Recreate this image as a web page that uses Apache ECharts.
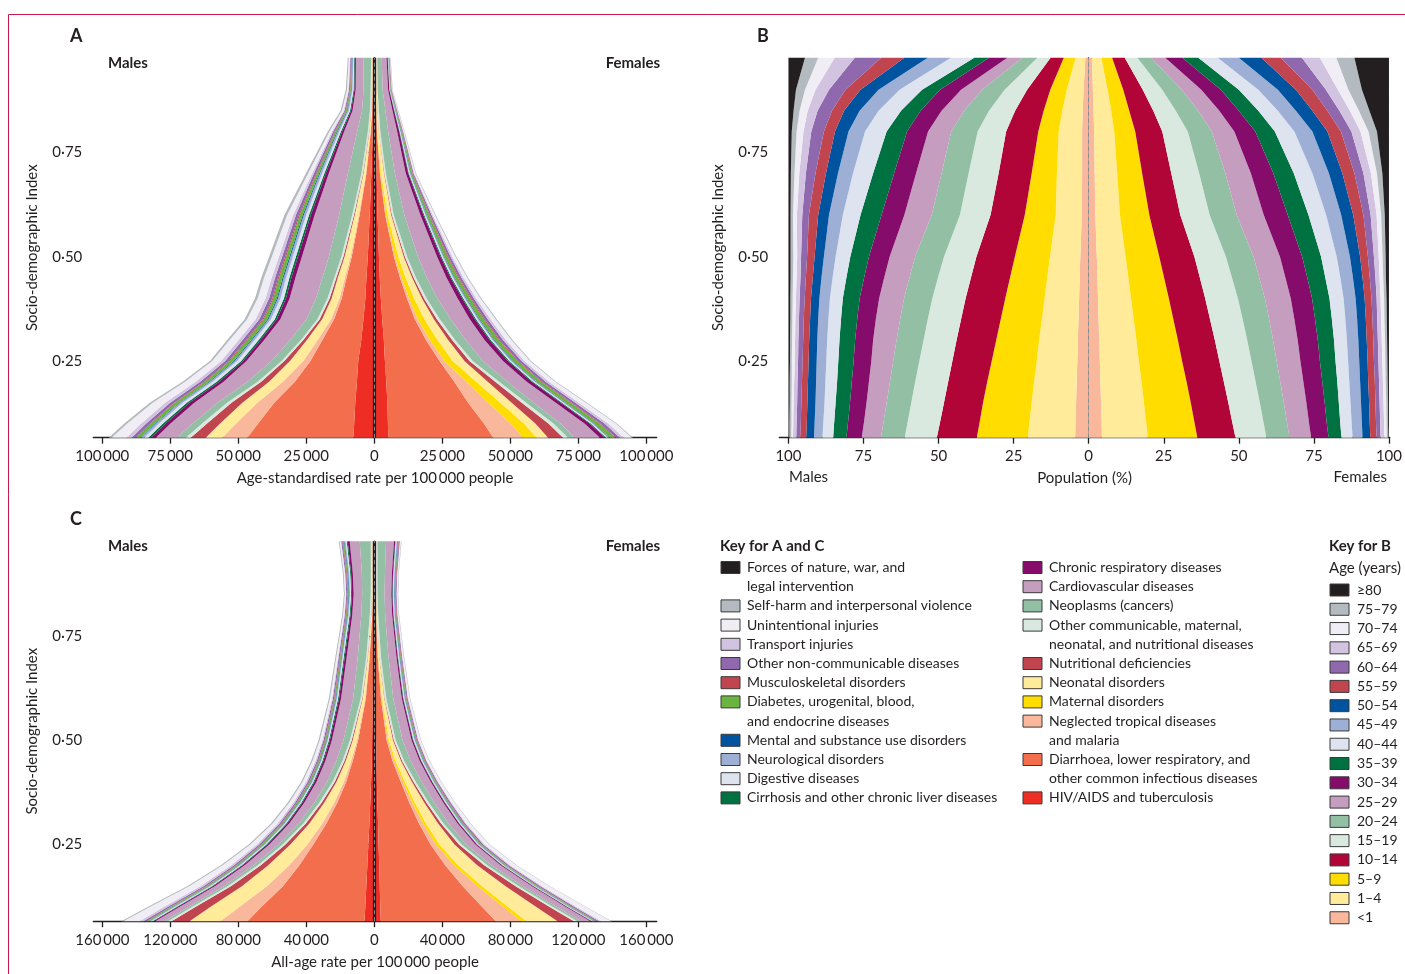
<!DOCTYPE html>
<html><head><meta charset="utf-8">
<script src="https://cdn.jsdelivr.net/npm/echarts@6/dist/echarts.min.js"></script>
<style>html,body{margin:0;padding:0;background:#fff}#c{width:1405px;height:974px}</style>
</head><body><div id="c"></div><script>
const FONT = 'Lato, "Open Sans", sans-serif';
const INK = '#231f20';
// Socio-demographic Index levels at which bands are read
const sdiLevels = [0.066,0.1,0.15,0.2,0.25,0.3,0.35,0.4,0.45,0.5,0.6,0.7,0.8,0.85,0.9,0.977];

// ---------- Panel A: age-standardised rate per 100 000 (thousands) ----------
// Males
const aM_hiv=[7.7,7.4,7.0,6.4,5.9,4.8,4.0,3.3,2.9,2.4,1.7,1.1,0.55,0.37,0.29,0.26];
const aM_diar=[39.0,35.3,29.8,22.8,17.6,14.3,10.8,8.7,7.3,5.9,3.7,1.8,0.74,0.44,0.37,0.33];
const aM_ntd=[9.2,8.1,6.2,4.4,2.6,1.7,1.1,0.8,0.6,0.44,0.29,0.18,0.11,0.07,0.07,0.04];
const aM_mat=[0,0,0,0,0,0,0,0,0,0,0,0,0,0,0,0];
const aM_neo=[6.1,5.9,5.5,5.1,4.9,4.0,3.3,2.9,2.6,2.2,1.5,0.9,0.44,0.29,0.22,0.18];
const aM_nutr=[5.5,4.8,4.0,2.9,2.1,1.3,0.9,0.74,0.55,0.44,0.29,0.18,0.11,0.07,0.07,0.07];
const aM_othc=[1.8,1.8,1.65,1.3,1.0,0.9,0.85,0.8,0.74,0.74,0.66,0.55,0.44,0.37,0.33,0.29];
const aM_neopl=[3.3,3.5,3.5,3.7,3.7,3.9,4.0,4.2,4.4,4.6,4.8,5.0,3.9,2.9,2.6,2.8];
const aM_cardio=[7.7,8.1,8.5,8.8,9.2,9.6,9.6,9.7,9.9,9.9,9.0,7.0,4.8,3.5,2.9,2.8];
const aM_cresp=[1.8,1.8,1.8,1.65,1.2,1.3,1.3,1.36,1.47,1.47,1.4,1.1,0.74,0.55,0.48,0.44];
const aM_cirr=[1.0,1.0,1.0,0.92,0.74,0.74,0.74,0.74,0.74,0.74,0.66,0.55,0.44,0.37,0.29,0.22];
const aM_dig=[1.47,1.47,1.47,1.47,1.47,1.47,1.4,1.29,1.21,1.1,1.03,0.81,0.59,0.44,0.37,0.29];
const aM_neuro=[1.21,1.18,1.1,1.03,0.92,0.92,0.92,0.92,0.92,0.92,0.92,0.81,0.66,0.48,0.4,0.37];
const aM_ment=[0.26,0.29,0.29,0.33,0.37,0.37,0.37,0.37,0.37,0.37,0.37,0.29,0.26,0.18,0.15,0.11];
const aM_diab=[1.47,1.47,1.47,1.47,1.47,1.47,1.4,1.32,1.29,1.21,1.1,0.81,0.55,0.37,0.29,0.22];
const aM_msk=[0.26,0.29,0.29,0.33,0.37,0.37,0.37,0.37,0.37,0.37,0.37,0.29,0.22,0.18,0.15,0.15];
const aM_oncd=[1.47,1.47,1.47,1.4,1.29,1.29,1.21,1.18,1.1,1.1,1.03,0.81,0.59,0.4,0.33,0.26];
const aM_transp=[1.84,1.84,1.84,1.65,1.47,1.47,1.4,1.32,1.25,1.18,1.03,0.66,0.44,0.29,0.22,0.15];
const aM_unint=[5.5,5.1,4.6,3.9,3.3,3.3,3.1,2.9,2.8,2.6,2.2,1.47,0.92,0.62,0.51,0.4];
const aM_self=[1.0,1.0,1.0,0.85,0.74,0.81,0.81,0.88,0.92,0.92,0.92,0.74,0.55,0.44,0.37,0.29];
const aM_forces=[0.03,0.03,0.03,0.03,0.03,0.03,0.03,0.03,0.03,0.03,0.03,0.03,0.03,0.03,0.03,0.03];
// Females
const aF_hiv=[5.1,5.0,4.8,4.4,3.9,3.5,2.9,2.4,2.0,1.7,1.2,0.85,0.48,0.37,0.26,0.22];
const aF_diar=[38.6,35.3,29.7,25.0,20.1,15.5,12.0,9.6,7.4,5.5,2.8,1.2,0.48,0.37,0.26,0.22];
const aF_ntd=[11.0,9.9,7.4,4.4,1.8,1.5,1.1,0.8,0.6,0.44,0.26,0.15,0.07,0.07,0.04,0.04];
const aF_mat=[4.9,4.8,4.4,3.7,3.05,2.75,2.4,1.84,1.47,1.18,0.66,0.29,0.11,0.07,0.04,0.04];
const aF_neo=[4.3,4.2,4.2,4.2,4.3,3.9,3.5,2.9,2.4,2.0,1.3,1.1,0.55,0.37,0.26,0.22];
const aF_nutr=[5.5,4.8,3.7,2.75,1.84,1.47,1.1,0.74,0.55,0.44,0.26,0.15,0.07,0.07,0.07,0.07];
const aF_othc=[1.84,1.84,1.65,1.47,1.2,1.1,1.1,0.96,0.88,0.81,0.66,0.51,0.44,0.37,0.29,0.26];
const aF_neopl=[2.5,2.6,2.75,3.1,3.7,3.9,4.0,4.0,4.0,4.0,3.9,3.3,2.9,2.4,1.84,1.65];
const aF_cardio=[9.2,8.8,8.1,7.0,7.4,6.9,7.0,7.4,7.2,7.0,5.9,4.0,3.3,2.6,2.0,1.76];
const aF_cresp=[1.84,1.84,1.84,1.84,1.84,1.84,1.84,1.65,1.47,1.29,1.1,0.92,0.74,0.59,0.44,0.4];
const aF_cirr=[0.48,0.48,0.48,0.48,0.48,0.48,0.48,0.44,0.4,0.37,0.33,0.22,0.18,0.15,0.11,0.11];
const aF_dig=[0.55,0.55,0.55,0.55,0.55,0.55,0.55,0.51,0.48,0.44,0.4,0.29,0.22,0.18,0.15,0.15];
const aF_neuro=[0.55,0.55,0.55,0.55,0.55,0.55,0.55,0.51,0.48,0.44,0.4,0.33,0.26,0.22,0.18,0.15];
const aF_ment=[0.26,0.26,0.26,0.26,0.26,0.26,0.26,0.22,0.22,0.18,0.18,0.15,0.11,0.11,0.07,0.07];
const aF_diab=[1.84,1.84,1.76,1.65,1.58,1.54,1.47,1.32,1.21,1.1,0.81,0.44,0.29,0.22,0.15,0.15];
const aF_msk=[0.37,0.37,0.37,0.37,0.37,0.37,0.37,0.33,0.33,0.29,0.26,0.18,0.15,0.11,0.11,0.07];
const aF_oncd=[1.47,1.47,1.4,1.29,1.21,1.18,1.1,0.99,0.92,0.85,0.62,0.37,0.22,0.18,0.15,0.11];
const aF_transp=[1.47,1.4,1.29,1.21,1.1,1.1,1.03,0.88,0.77,0.66,0.44,0.22,0.15,0.11,0.07,0.07];
const aF_unint=[2.9,2.75,2.6,2.2,2.0,2.0,1.84,1.54,1.32,1.18,0.81,0.44,0.26,0.18,0.15,0.11];
const aF_self=[0.37,0.37,0.37,0.37,0.37,0.37,0.37,0.33,0.29,0.26,0.22,0.15,0.11,0.11,0.07,0.07];
const aF_forces=[0.02,0.02,0.02,0.02,0.02,0.02,0.02,0.02,0.02,0.02,0.02,0.02,0.02,0.02,0.02,0.02];

// ---------- Panel C: all-age rate per 100 000 (thousands) ----------
const cM_hiv=[5.8,5.3,4.7,4.1,3.5,2.9,2.4,1.9,1.5,1.3,0.9,0.6,0.35,0.3,0.3,0.3];
const cM_diar=[68.8,61.2,49.1,40.0,32.4,25.3,19.4,14.7,11.2,8.2,4.1,2.1,0.9,0.65,0.6,0.6];
const cM_ntd=[15.9,12.9,9.4,5.9,3.5,2.4,1.8,1.3,0.94,0.7,0.35,0.18,0.12,0.06,0.06,0.06];
const cM_mat=[0,0,0,0,0,0,0,0,0,0,0,0,0,0,0,0];
const cM_neo=[18.2,17.1,14.7,12.4,10.0,7.6,5.9,4.4,3.2,2.5,1.5,0.9,0.47,0.35,0.3,0.3];
const cM_nutr=[10.6,8.8,6.5,4.4,2.9,2.1,1.5,1.06,0.76,0.6,0.3,0.18,0.12,0.12,0.12,0.12];
const cM_othc=[2.1,2.0,1.9,1.8,1.65,1.5,1.4,1.3,1.2,1.06,0.9,0.76,0.7,0.65,0.65,0.7];
const cM_neopl=[2.1,2.1,2.2,2.35,2.5,2.65,2.9,3.2,3.5,3.8,4.4,5.0,5.0,5.0,5.3,6.5];
const cM_cardio=[5.3,5.3,5.3,5.3,5.3,5.6,5.9,6.2,6.5,6.8,7.1,6.5,5.3,5.0,5.3,5.9];
const cM_cresp=[1.18,1.18,1.18,1.18,1.18,1.18,1.18,1.18,1.18,1.18,1.18,1.18,1.06,1.0,1.06,1.18];
const cM_cirr=[0.59,0.59,0.59,0.59,0.59,0.59,0.59,0.59,0.59,0.59,0.59,0.59,0.53,0.53,0.53,0.59];
const cM_dig=[0.88,0.88,0.88,0.82,0.76,0.7,0.65,0.59,0.59,0.59,0.59,0.59,0.59,0.59,0.59,0.65];
const cM_neuro=[0.88,0.88,0.82,0.76,0.7,0.7,0.65,0.65,0.59,0.59,0.59,0.59,0.59,0.59,0.65,0.76];
const cM_ment=[0.3,0.3,0.3,0.3,0.3,0.3,0.3,0.3,0.3,0.3,0.3,0.3,0.3,0.3,0.3,0.3];
const cM_diab=[1.18,1.18,1.12,1.06,0.94,0.88,0.82,0.76,0.7,0.65,0.59,0.53,0.47,0.47,0.47,0.53];
const cM_msk=[0.3,0.3,0.3,0.3,0.3,0.3,0.3,0.3,0.3,0.3,0.3,0.3,0.3,0.3,0.3,0.35];
const cM_oncd=[1.76,1.65,1.47,1.3,1.18,1.06,0.94,0.88,0.82,0.76,0.7,0.65,0.59,0.59,0.59,0.65];
const cM_transp=[2.35,2.2,1.94,1.65,1.4,1.18,1.0,0.88,0.76,0.65,0.53,0.41,0.3,0.24,0.24,0.24];
const cM_unint=[9.4,8.2,6.5,5.0,3.8,2.9,2.5,2.06,1.76,1.53,1.18,0.94,0.7,0.65,0.65,0.7];
const cM_self=[1.18,1.18,1.06,0.94,0.88,0.82,0.76,0.7,0.65,0.59,0.53,0.47,0.41,0.35,0.35,0.35];
const cM_forces=[0.05,0.05,0.05,0.05,0.05,0.05,0.05,0.05,0.05,0.05,0.05,0.05,0.05,0.05,0.05,0.05];
const cF_hiv=[3.8,3.5,3.2,2.9,2.5,2.2,1.8,1.5,1.3,1.06,0.7,0.47,0.3,0.24,0.24,0.24];
const cF_diar=[67.6,60.0,48.8,38.8,30.6,24.1,18.8,14.1,9.4,6.2,3.2,1.5,0.7,0.53,0.47,0.47];
const cF_ntd=[15.0,12.4,8.8,5.3,3.2,2.35,1.76,1.3,0.94,0.7,0.35,0.18,0.12,0.06,0.06,0.06];
const cF_mat=[3.2,2.9,2.65,2.35,2.06,1.76,1.47,1.18,0.94,0.7,0.35,0.18,0.06,0.06,0.06,0.06];
const cF_neo=[18.2,16.5,13.8,11.2,8.8,7.1,5.6,4.1,3.1,2.35,1.3,0.7,0.35,0.3,0.3,0.3];
const cF_nutr=[9.6,7.9,5.9,4.1,2.65,1.76,1.3,0.94,0.7,0.53,0.24,0.12,0.06,0.06,0.06,0.06];
const cF_othc=[2.1,2.0,1.9,1.8,1.65,1.5,1.4,1.3,1.2,1.06,0.9,0.76,0.7,0.65,0.65,0.7];
const cF_neopl=[2.2,2.2,2.35,2.5,2.7,2.9,3.2,3.5,3.8,4.0,4.1,4.4,4.1,4.1,4.4,5.0];
const cF_cardio=[5.3,5.3,5.3,5.3,5.3,5.3,5.3,5.3,5.3,5.3,5.0,4.7,4.1,4.0,4.1,4.7];
const cF_cresp=[0.88,0.88,0.88,0.88,0.88,0.88,0.88,0.82,0.82,0.82,0.76,0.7,0.65,0.65,0.65,0.7];
const cF_cirr=[0.3,0.3,0.3,0.3,0.3,0.3,0.3,0.3,0.3,0.3,0.3,0.3,0.3,0.3,0.3,0.3];
const cF_dig=[0.59,0.59,0.59,0.59,0.59,0.59,0.59,0.59,0.59,0.59,0.47,0.47,0.41,0.41,0.41,0.47];
const cF_neuro=[0.59,0.59,0.59,0.59,0.59,0.59,0.59,0.53,0.53,0.53,0.53,0.53,0.53,0.53,0.59,0.65];
const cF_ment=[0.24,0.24,0.24,0.24,0.24,0.24,0.24,0.24,0.24,0.24,0.24,0.24,0.24,0.24,0.24,0.24];
const cF_diab=[0.88,0.88,0.82,0.76,0.7,0.65,0.59,0.53,0.53,0.47,0.41,0.35,0.3,0.3,0.3,0.3];
const cF_msk=[0.3,0.3,0.3,0.3,0.3,0.3,0.3,0.3,0.3,0.3,0.3,0.3,0.3,0.3,0.3,0.3];
const cF_oncd=[1.47,1.4,1.3,1.18,1.06,0.94,0.82,0.7,0.65,0.59,0.53,0.47,0.41,0.41,0.41,0.47];
const cF_transp=[1.18,1.12,0.94,0.82,0.7,0.59,0.47,0.41,0.35,0.3,0.24,0.18,0.12,0.12,0.12,0.12];
const cF_unint=[5.9,5.3,4.4,3.5,2.8,2.35,2.0,1.65,1.4,1.18,0.94,0.76,0.59,0.53,0.53,0.59];
const cF_self=[0.35,0.35,0.3,0.3,0.24,0.24,0.18,0.18,0.18,0.18,0.18,0.18,0.18,0.18,0.18,0.18];
const cF_forces=[0.03,0.03,0.03,0.03,0.03,0.03,0.03,0.03,0.03,0.03,0.03,0.03,0.03,0.03,0.03,0.03];

// ---------- Panel B: population (%) by age group ----------
const bM_lt1=[4.5,4.4,4.2,4.0,3.8,3.6,3.4,3.2,3.0,2.8,2.3,2.2,2.2,2.0,1.7,1.1];
const bM_1to4=[15.8,15.4,14.8,14.2,13.5,12.9,12.2,11.5,10.8,10.1,8.7,8.4,7.8,6.8,5.6,3.3];
const bM_5to9=[17.0,16.6,16.2,15.6,15.0,14.3,13.7,13.1,12.4,11.7,10.3,8.4,6.8,6.2,5.5,3.9];
const bM_10to14=[13.3,13.2,13.0,13.0,13.1,13.2,13.2,13.2,13.0,12.8,11.4,11.0,10.7,9.5,7.7,4.4];
const bM_15to19=[10.7,10.8,10.9,11.0,11.0,11.0,11.1,11.1,11.0,10.8,10.2,10.0,9.5,8.7,7.5,4.4];
const bM_20to24=[7.9,8.0,8.2,8.4,8.7,9.0,9.2,9.4,9.5,9.6,9.4,9.0,8.8,8.3,7.5,5.0];
const bM_25to29=[6.4,6.5,6.7,7.0,7.3,7.8,8.1,8.3,8.4,8.5,9.1,8.5,7.7,7.5,7.0,5.0];
const bM_30to34=[5.1,5.3,5.5,5.7,5.9,6.0,6.2,6.5,6.7,6.9,7.6,7.3,7.0,7.0,7.0,6.1];
const bM_35to39=[4.4,4.6,4.8,4.9,5.1,5.2,5.4,5.6,5.9,6.2,7.0,7.0,6.8,6.5,6.0,4.9];
const bM_40to44=[3.6,3.6,3.7,3.9,4.0,4.1,4.2,4.3,4.6,4.9,5.9,6.7,7.2,7.5,7.5,7.8];
const bM_45to49=[2.8,2.9,3.0,3.1,3.2,3.3,3.4,3.5,3.7,3.9,4.6,5.0,5.5,6.3,7.0,7.7];
const bM_50to54=[2.6,2.6,2.7,2.7,2.7,2.7,2.7,2.8,2.9,3.1,3.6,4.0,4.5,5.2,6.0,7.8];
const bM_55to59=[2.0,2.0,2.0,2.0,2.0,2.0,2.1,2.1,2.3,2.5,3.1,3.5,3.7,4.0,5.0,7.7];
const bM_60to64=[1.3,1.4,1.4,1.5,1.5,1.6,1.6,1.7,1.8,2.0,2.2,3.2,4.2,4.8,5.5,8.8];
const bM_65to69=[1.1,1.1,1.2,1.1,1.1,1.1,1.2,1.2,1.3,1.3,1.8,2.2,2.6,3.3,4.5,6.7];
const bM_70to74=[0.6,0.6,0.7,0.8,1.0,1.0,1.0,1.1,1.2,1.3,1.3,1.6,2.3,2.7,3.5,5.5];
const bM_75to79=[0.6,0.7,0.6,0.7,0.6,0.7,0.7,0.8,0.8,0.9,0.8,1.2,1.6,2.0,3.0,4.4];
const bM_80plus=[0.3,0.3,0.4,0.4,0.5,0.5,0.6,0.6,0.7,0.7,0.7,0.8,1.1,1.7,2.5,5.5];
const bF_lt1=[4.4,4.3,4.1,3.9,3.7,3.5,3.3,3.1,2.9,2.7,2.2,2.0,1.8,1.6,1.4,1.1];
const bF_1to4=[15.3,14.9,14.3,13.7,13.0,12.4,11.7,11.0,10.3,9.6,8.2,7.5,6.7,5.9,4.9,3.1];
const bF_5to9=[16.5,16.1,15.6,15.0,14.4,13.8,13.2,12.6,11.9,11.2,9.8,8.3,7.0,6.0,5.2,3.6];
const bF_10to14=[12.7,12.6,12.5,12.4,12.4,12.3,12.2,12.1,11.9,11.7,10.3,9.7,9.0,8.0,6.5,4.2];
const bF_15to19=[10.3,10.4,10.5,10.6,10.7,10.8,10.9,10.9,10.7,10.5,9.8,9.3,8.5,7.5,6.5,4.2];
const bF_20to24=[7.7,7.8,8.0,8.2,8.4,8.6,8.8,9.0,9.1,9.2,9.0,8.7,8.0,7.5,6.5,4.6];
const bF_25to29=[7.2,7.3,7.5,7.7,7.9,8.2,8.4,8.6,8.7,8.8,9.0,8.5,7.5,7.0,6.5,4.7];
const bF_30to34=[5.8,5.9,6.1,6.3,6.5,6.7,6.9,7.1,7.3,7.4,8.0,7.5,7.0,6.5,6.5,5.7];
const bF_35to39=[4.3,4.5,4.7,5.0,5.2,5.4,5.6,5.8,6.0,6.3,6.9,6.8,6.5,6.5,6.0,5.3];
const bF_40to44=[3.7,3.8,3.9,4.0,4.2,4.3,4.5,4.7,5.0,5.2,5.9,6.2,6.5,6.5,6.5,6.5];
const bF_45to49=[3.3,3.4,3.5,3.6,3.7,3.8,3.9,4.0,4.2,4.4,5.0,5.5,6.0,6.0,6.5,7.0];
const bF_50to54=[2.6,2.6,2.7,2.7,2.8,2.8,2.9,3.0,3.2,3.4,4.0,4.5,5.0,5.5,6.0,7.5];
const bF_55to59=[2.1,2.1,2.1,2.2,2.1,2.2,2.2,2.3,2.4,2.6,3.4,4.0,4.5,5.0,5.5,6.5];
const bF_60to64=[1.3,1.4,1.4,1.4,1.5,1.5,1.6,1.7,1.9,2.0,2.4,3.0,3.5,4.0,4.5,7.0];
const bF_65to69=[1.3,1.3,1.3,1.3,1.3,1.3,1.3,1.3,1.4,1.6,2.0,2.5,3.0,3.5,4.0,6.0];
const bF_70to74=[0.8,0.8,0.9,0.9,1.0,1.1,1.1,1.2,1.2,1.3,1.5,2.0,2.7,3.0,3.5,5.5];
const bF_75to79=[0.5,0.5,0.6,0.7,0.7,0.7,0.8,0.8,0.9,1.0,1.2,1.8,2.8,3.5,4.5,6.0];
const bF_80plus=[0.2,0.3,0.3,0.4,0.5,0.6,0.7,0.8,1.0,1.1,1.4,2.2,4.0,6.5,9.0,11.5];

// ---------- names / colours (centre outward) ----------
const causeNames=['HIV/AIDS and tuberculosis','Diarrhoea, lower respiratory, and other common infectious diseases','Neglected tropical diseases and malaria','Maternal disorders','Neonatal disorders','Nutritional deficiencies','Other communicable, maternal, neonatal, and nutritional diseases','Neoplasms (cancers)','Cardiovascular diseases','Chronic respiratory diseases','Cirrhosis and other chronic liver diseases','Digestive diseases','Neurological disorders','Mental and substance use disorders','Diabetes, urogenital, blood, and endocrine diseases','Musculoskeletal disorders','Other non-communicable diseases','Transport injuries','Unintentional injuries','Self-harm and interpersonal violence','Forces of nature, war, and legal intervention'];
const causeColors=['#ee2e24','#f26e4c','#f9b89b','#ffdd00','#ffeb99','#c1454f','#d9e9e0','#93bfa5','#c59dbf','#860c6c','#007140','#dde3ef','#9eafd6','#00539f','#6bb43f','#c1454f','#9068ad','#d2c4e1','#f0edf5','#b3bbc0','#231f20'];
const ageNames=['<1','1–4','5–9','10–14','15–19','20–24','25–29','30–34','35–39','40–44','45–49','50–54','55–59','60–64','65–69','70–74','75–79','≥80'];
const ageColors=['#f9b89b','#ffeb99','#ffdd00','#b10538','#d9e9e0','#93bfa5','#c59dbf','#860c6c','#007140','#dde3ef','#9eafd6','#00539f','#c1454f','#9068ad','#d2c4e1','#f0edf5','#b3bbc0','#231f20'];

const aMales=[aM_hiv,aM_diar,aM_ntd,aM_mat,aM_neo,aM_nutr,aM_othc,aM_neopl,aM_cardio,aM_cresp,aM_cirr,aM_dig,aM_neuro,aM_ment,aM_diab,aM_msk,aM_oncd,aM_transp,aM_unint,aM_self,aM_forces];
const aFemales=[aF_hiv,aF_diar,aF_ntd,aF_mat,aF_neo,aF_nutr,aF_othc,aF_neopl,aF_cardio,aF_cresp,aF_cirr,aF_dig,aF_neuro,aF_ment,aF_diab,aF_msk,aF_oncd,aF_transp,aF_unint,aF_self,aF_forces];
const cMales=[cM_hiv,cM_diar,cM_ntd,cM_mat,cM_neo,cM_nutr,cM_othc,cM_neopl,cM_cardio,cM_cresp,cM_cirr,cM_dig,cM_neuro,cM_ment,cM_diab,cM_msk,cM_oncd,cM_transp,cM_unint,cM_self,cM_forces];
const cFemales=[cF_hiv,cF_diar,cF_ntd,cF_mat,cF_neo,cF_nutr,cF_othc,cF_neopl,cF_cardio,cF_cresp,cF_cirr,cF_dig,cF_neuro,cF_ment,cF_diab,cF_msk,cF_oncd,cF_transp,cF_unint,cF_self,cF_forces];
const bMales=[bM_lt1,bM_1to4,bM_5to9,bM_10to14,bM_15to19,bM_20to24,bM_25to29,bM_30to34,bM_35to39,bM_40to44,bM_45to49,bM_50to54,bM_55to59,bM_60to64,bM_65to69,bM_70to74,bM_75to79,bM_80plus];
const bFemales=[bF_lt1,bF_1to4,bF_5to9,bF_10to14,bF_15to19,bF_20to24,bF_25to29,bF_30to34,bF_35to39,bF_40to44,bF_45to49,bF_50to54,bF_55to59,bF_60to64,bF_65to69,bF_70to74,bF_75to79,bF_80plus];

// stacked bands as custom polygons, positioned through the axes (api.coord)
function bands(axisIdx, groups, names, colors, sign, unit){
  const n=sdiLevels.length, cum=new Array(n).fill(0), out=[];
  groups.forEach((vals,k)=>{
    const data=sdiLevels.map((s,i)=>{const a=cum[i]; cum[i]+=vals[i]; return [sign*a*unit, sign*cum[i]*unit, s];});
    out.push({type:'custom', name:names[k], xAxisIndex:axisIdx, yAxisIndex:axisIdx, silent:true, z:2,
      data, encode:{x:[0,1], y:2},
      renderItem:(p,api)=>{
        if(p.dataIndexInside!==0) return null;
        const pts=[];
        for(let i=0;i<n;i++) pts.push(api.coord([data[i][1],data[i][2]]));
        for(let i=n-1;i>=0;i--) pts.push(api.coord([data[i][0],data[i][2]]));
        return {type:'polygon', shape:{points:pts}, style:{fill:colors[k]}};
      }});
  });
  return out;
}
function zeroLine(idx, black){
  const s=[];
  if(black) s.push({type:'line', xAxisIndex:idx, yAxisIndex:idx, data:[], z:5, silent:true,
    markLine:{silent:true, symbol:'none', label:{show:false}, data:[{xAxis:0}], lineStyle:{color:INK, width:3.2, type:'solid'}}});
  s.push({type:'line', xAxisIndex:idx, yAxisIndex:idx, data:[], z:6, silent:true,
    markLine:{silent:true, symbol:'none', label:{show:false}, data:[{xAxis:0}], lineStyle:{color:'#7f8f99', width:1, type:[4,3]}}});
  return s;
}
const fmtThousands=v=>{const a=Math.abs(Math.round(v)); return a>=1000? Math.floor(a/1000)+'\u2009'+String(a%1000).padStart(3,'0') : String(a);};
const fmtSdi=v=>v.toFixed(2).replace('.','\u00b7');
const txt={fontFamily:FONT, fontSize:15, color:INK};
function yAx(idx){return {gridIndex:idx, type:'value', min:0.066, max:0.977,
  name:'Socio-demographic Index', nameLocation:'middle', nameGap:54, nameRotate:90, nameTextStyle:txt,
  axisLine:{show:true, lineStyle:{color:INK, width:1.3}}, splitLine:{show:false},
  axisTick:{show:true, length:6, customValues:[0.25,0.5,0.75], lineStyle:{color:INK, width:1.3}},
  axisLabel:Object.assign({customValues:[0.25,0.5,0.75], formatter:fmtSdi, margin:11}, txt)};}
function xAx(idx,min,max,ticks,fmt,name){return {gridIndex:idx, type:'value', min, max,
  name, nameLocation:'middle', nameGap:33, nameTextStyle:txt,
  axisLine:{show:true, onZero:false, lineStyle:{color:INK, width:1.3}}, splitLine:{show:false},
  axisTick:{show:true, length:6, customValues:ticks, lineStyle:{color:INK, width:1.3}},
  axisLabel:Object.assign({customValues:ticks, formatter:fmt, margin:11}, txt)};}

const series=[].concat(
  bands(0,aMales,causeNames,causeColors,-1,1000), bands(0,aFemales,causeNames,causeColors,1,1000), zeroLine(0,true),
  bands(1,bMales,ageNames,ageColors,-1,1), bands(1,bFemales,ageNames,ageColors,1,1), zeroLine(1,false),
  bands(2,cMales,causeNames,causeColors,-1,1000), bands(2,cFemales,causeNames,causeColors,1,1000), zeroLine(2,true)
);

// legends (drawn as graphic swatches + text)
const keyAC1=[['Forces of nature, war, and','legal intervention',20],['Self-harm and interpersonal violence',null,19],['Unintentional injuries',null,18],['Transport injuries',null,17],['Other non-communicable diseases',null,16],['Musculoskeletal disorders',null,15],['Diabetes, urogenital, blood,','and endocrine diseases',14],['Mental and substance use disorders',null,13],['Neurological disorders',null,12],['Digestive diseases',null,11],['Cirrhosis and other chronic liver diseases',null,10]];
const keyAC2=[['Chronic respiratory diseases',null,9],['Cardiovascular diseases',null,8],['Neoplasms (cancers)',null,7],['Other communicable, maternal,','neonatal, and nutritional diseases',6],['Nutritional deficiencies',null,5],['Neonatal disorders',null,4],['Maternal disorders',null,3],['Neglected tropical diseases','and malaria',2],['Diarrhoea, lower respiratory, and','other common infectious diseases',1],['HIV/AIDS and tuberculosis',null,0]];
const g=[];
const T=(x,y,t,o)=>g.push(Object.assign({type:'text', x, y, silent:true, style:Object.assign({text:t, fill:INK, font:'14px '+FONT, verticalAlign:'middle', align:'left'}, o||{})}));
const SW=(x,y,c)=>g.push({type:'rect', silent:true, shape:{x, y:y-6, width:19, height:12}, style:{fill:c, stroke:'#3a3a3a', lineWidth:1}});
function keyCol(list,x0,y0){let r=0; list.forEach(([l1,l2,ci])=>{const y=y0+r*19.2; SW(x0,y,causeColors[ci]); T(x0+26,y,l1); r++; if(l2){T(x0+26,y0+r*19.2,l2); r++;}});}
keyCol(keyAC1,721,567.5); keyCol(keyAC2,1023,567.5);
T(720,546,'Key for A and C',{font:'bold 15px '+FONT});
T(1329,546,'Key for B',{font:'bold 15px '+FONT});
T(1329,568,'Age (years)',{font:'15px '+FONT});
for(let i=0;i<18;i++){const a=17-i, y=590+i*19.28; SW(1330,y,ageColors[a]); T(1357,y,ageNames[a]);}
// panel letters and sex labels
T(70,36,'A',{font:'bold 18px '+FONT}); T(757,36,'B',{font:'bold 18px '+FONT}); T(70,519,'C',{font:'bold 18px '+FONT});
T(108,63,'Males',{font:'bold 15px '+FONT}); T(660,63,'Females',{font:'bold 15px '+FONT, align:'right'});
T(108,546,'Males',{font:'bold 15px '+FONT}); T(660,546,'Females',{font:'bold 15px '+FONT, align:'right'});
T(789,477,'Males',{font:'15px '+FONT}); T(1387,477,'Females',{font:'15px '+FONT, align:'right'});
g.push({type:'polyline', silent:true, shape:{points:[[8.5,974],[8.5,14.5],[1405,14.5]]}, style:{stroke:'#c8174b', lineWidth:1, fill:null}});

const chart=echarts.init(document.getElementById('c'),null,{renderer:'canvas'});
chart.setOption({
  animation:false, backgroundColor:'#fff',
  textStyle:{fontFamily:FONT},
  grid:[{left:93.3, top:57.7, width:563.4, height:380},{left:779.3, top:57.7, width:613, height:380},{left:93.3, top:541.2, width:563.4, height:380}],
  xAxis:[
    xAx(0,-103300,103800,[-100000,-75000,-50000,-25000,0,25000,50000,75000,100000],fmtThousands,'Age-standardised rate per 100\u2009000 people'),
    xAx(1,-103.05,100.27,[-100,-75,-50,-25,0,25,50,75,100],v=>String(Math.abs(v)),'Population (%)'),
    xAx(2,-165300,166100,[-160000,-120000,-80000,-40000,0,40000,80000,120000,160000],fmtThousands,'All-age rate per 100\u2009000 people')
  ],
  yAxis:[yAx(0),yAx(1),yAx(2)],
  series, graphic:g
});
</script></body></html>
